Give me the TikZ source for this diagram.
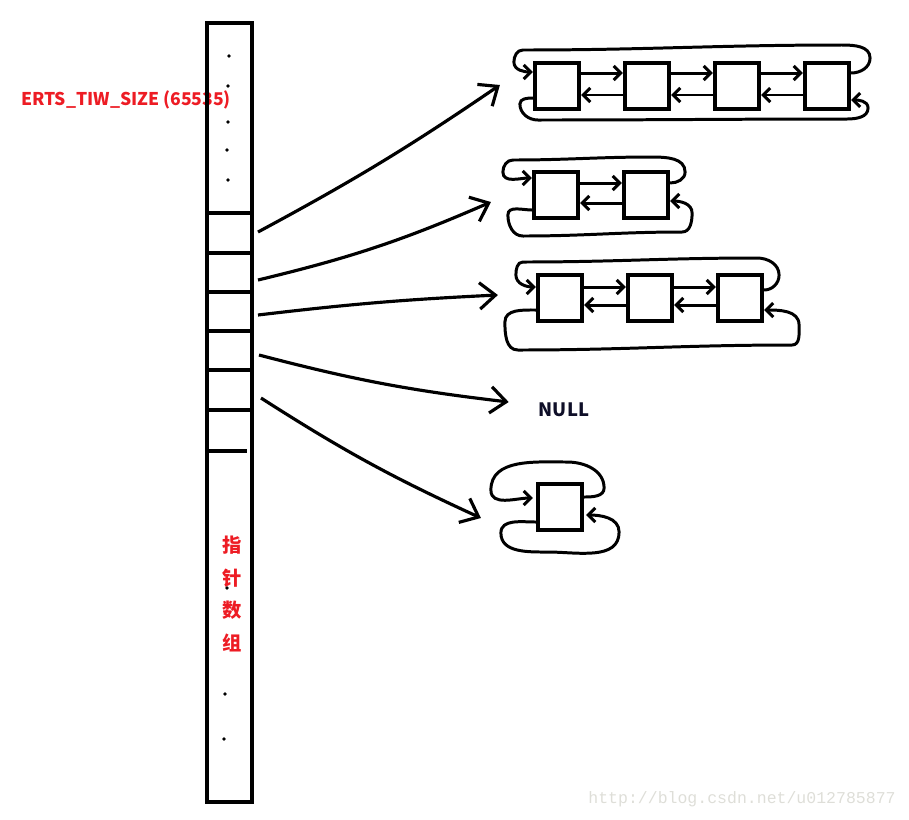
\documentclass[tikz,border=0pt]{standalone}
\usepackage{fontspec}
\newfontfamily\cjk{Noto Sans CJK SC}
\setmonofont{Liberation Mono}
\usetikzlibrary{positioning,calc,arrows.meta}
\definecolor{paintred}{RGB}{237,28,36}
\definecolor{wmgray}{RGB}{222,222,216}

\begin{document}
\begin{tikzpicture}[x=0.02cm,y=0.02cm,
  cell/.style = {draw, line width=2.4pt, minimum width=0.88cm, minimum height=0.92cm, inner sep=0pt},
  link/.style = {line width=1.7pt, -{Straight Barb[length=4pt,width=8pt]}},
  ring/.style = {line width=1.7pt, -{Straight Barb[length=4pt,width=8pt]}},
  ptr/.style = {line width=1.8pt, -{Straight Barb[length=9pt,width=15pt]}},
  bar/.style = {line width=2.7pt},
  node distance={18mm}]
\useasboundingbox (0,0) rectangle (909,-819);

% labels
\node[text=paintred, font=\cjk\bfseries\fontsize{10pt}{12pt}\selectfont] (size) at (126,-100) {ERTS\_TIW\_SIZE (65535)};
\node[text=paintred, font=\cjk\bfseries\fontsize{11pt}{18.6pt}\selectfont, align=center] (zh) at (232,-594) {指\\针\\数\\组};
\node[text=wmgray, font=\ttfamily\fontsize{9.4pt}{11pt}\selectfont] (url) at (742,-799) {http://blog.csdn.net/u012785877};

% pointer array
\node[draw, bar, minimum width=0.9cm, minimum height=15.58cm, inner sep=0pt] (arr) at (229.5,-412.5) {};
\draw[bar] (207,-213) -- (252,-213);
\draw[bar] (207,-253) -- (252,-253);
\draw[bar] (207,-292) -- (252,-292);
\draw[bar] (207,-331) -- (252,-331);
\draw[bar] (207,-370) -- (252,-370);
\draw[bar] (207,-410) -- (252,-410);
\draw[bar] (207,-451) -- (247,-451);
\fill (229,-56) circle (1.8) (228,-86) circle (1.8) (228,-122) circle (1.8) (227,-150) circle (1.8) (228,-180) circle (1.8)
      (227,-588) circle (1.8) (225,-694) circle (1.8) (224,-739) circle (1.8);

% lists
\node[cell] (a1) at (557,-86) {};
\node[cell] (a2) [right of=a1] {};
\node[cell] (a3) [right of=a2] {};
\node[cell] (a4) [right of=a3] {};
\node[cell] (b1) at (556,-195) {};
\node[cell] (b2) [right of=b1] {};
\node[cell] (c1) at (560,-298) {};
\node[cell] (c2) [right of=c1] {};
\node[cell] (c3) [right of=c2] {};
\node[cell] (d1) at (560,-507) {};
\node[font=\cjk\bfseries\fontsize{10.5pt}{12pt}\selectfont, text={rgb,255:red,15;green,15;blue,40}] (null) at (564,-410) {NULL};

\draw[link] ([yshift=0.26cm]a1.east) -- ([yshift=0.26cm]a2.west);
\draw[link] ([yshift=-0.18cm]a2.west) -- ([yshift=-0.18cm]a1.east);
\draw[link] ([yshift=0.26cm]a2.east) -- ([yshift=0.26cm]a3.west);
\draw[link] ([yshift=-0.18cm]a3.west) -- ([yshift=-0.18cm]a2.east);
\draw[link] ([yshift=0.26cm]a3.east) -- ([yshift=0.26cm]a4.west);
\draw[link] ([yshift=-0.18cm]a4.west) -- ([yshift=-0.18cm]a3.east);
\draw[link] ([yshift=0.24cm]b1.east) -- ([yshift=0.24cm]b2.west);
\draw[link] ([yshift=-0.16cm]b2.west) -- ([yshift=-0.16cm]b1.east);
\draw[link] ([yshift=0.22cm]c1.east) -- ([yshift=0.22cm]c2.west);
\draw[link] ([yshift=-0.14cm]c2.west) -- ([yshift=-0.14cm]c1.east);
\draw[link] ([yshift=0.22cm]c2.east) -- ([yshift=0.22cm]c3.west);
\draw[link] ([yshift=-0.14cm]c3.west) -- ([yshift=-0.14cm]c2.east);

% rings
\draw[ring] ($(a4.east)+(0,13)$) to[out=0,in=-90] ($(a4.east)+(19,28)$) to[out=90,in=0] ($(a4.east)+(-9,41)$) to[out=180,in=0] ($(a1.west)+(-10,36)$) to[out=180,in=90] ($(a1.west)+(-19,24)$) to[out=-90,in=180] ($(a1.west)+(0,14)$);
\draw[ring] ($(a1.west)+(0,-12)$) to[out=180,in=90] ($(a1.west)+(-13,-18)$) to[out=-90,in=180] ($(a1.west)+(5,-34)$) to[out=0,in=180] ($(a4.east)+(-4,-33)$) to[out=0,in=-90] ($(a4.east)+(17,-22)$) to[out=90,in=0] ($(a4.east)+(0,-14)$);
\draw[ring] ($(b2.east)+(0,12)$) to[out=0,in=-90] ($(b2.east)+(15,23)$) to[out=90,in=0] ($(b2.east)+(-18,38)$) to[out=180,in=0] ($(b1.west)+(-19,35)$) to[out=180,in=90] ($(b1.west)+(-29,23)$) to[out=-90,in=180] ($(b1.west)+(0,17)$);
\draw[ring] ($(b1.west)+(0,-15)$) to[out=180,in=90] ($(b1.west)+(-24,-20)$) to[out=-90,in=180] ($(b1.west)+(-9,-41)$) to[out=0,in=180] ($(b2.east)+(12,-37)$) to[out=0,in=-90] ($(b2.east)+(22,-18)$) to[out=90,in=0] ($(b2.east)+(0,-6)$);
\draw[ring] ($(c3.east)+(0,8)$) to[out=0,in=-90] ($(c3.east)+(15,23)$) to[out=90,in=0] ($(c3.east)+(-7,40)$) to[out=180,in=0] ($(c1.west)+(-13,36)$) to[out=180,in=90] ($(c1.west)+(-20,23)$) to[out=-90,in=180] ($(c1.west)+(0,11)$);
\draw[ring] ($(c1.west)+(0,-12)$) to[out=180,in=90] ($(c1.west)+(-31,-24)$) to[out=-90,in=180] ($(c1.west)+(-18,-52)$) to[out=0,in=180] ($(c3.east)+(28,-47)$) to[out=0,in=-90] ($(c3.east)+(35,-27)$) to[out=90,in=0] ($(c3.east)+(0,-12)$);
\draw[ring] ($(d1.east)+(0,10)$) to[out=0,in=-90] ($(d1.east)+(20,19)$) to[out=90,in=0] ($(d1.east)+(-17,45)$) to[out=180,in=90] ($(d1.west)+(-45,17)$) to[out=-90,in=180] ($(d1.west)+(-3,9)$);
\draw[ring] ($(d1.west)+(0,-15)$) to[out=180,in=90] ($(d1.west)+(-35,-26)$) to[out=-90,in=180] ($(d1.west)+(12,-45)$) to[out=0,in=-90] ($(d1.east)+(35,-25)$) to[out=90,in=0] ($(d1.east)+(2,-8)$);

% pointers
\coordinate (s1) at (258,-232);
\coordinate (s2) at (258,-280);
\coordinate (s3) at (258,-315);
\coordinate (s4) at (259,-355);
\coordinate (s5) at (261,-398);
\coordinate (p1) at ($(a1.west)+(-33,1)$);
\coordinate (p2) at ($(b1.west)+(-41,-7)$);
\coordinate (p3) at ($(c1.west)+(-38,3)$);
\coordinate (p4) at ($(null.west)+(-24,8)$);
\coordinate (p5) at ($(d1.west)+(-55,-11)$);
\draw[ptr] (s1) to[bend right=3] (p1);
\draw[ptr] (s2) to[bend right=5] (p2);
\draw[ptr] (s3) to[bend left=2] (p3);
\draw[ptr] (s4) to[bend right=4] (p4);
\draw[ptr] (s5) to[bend right=4] (p5);
\end{tikzpicture}
\end{document}
